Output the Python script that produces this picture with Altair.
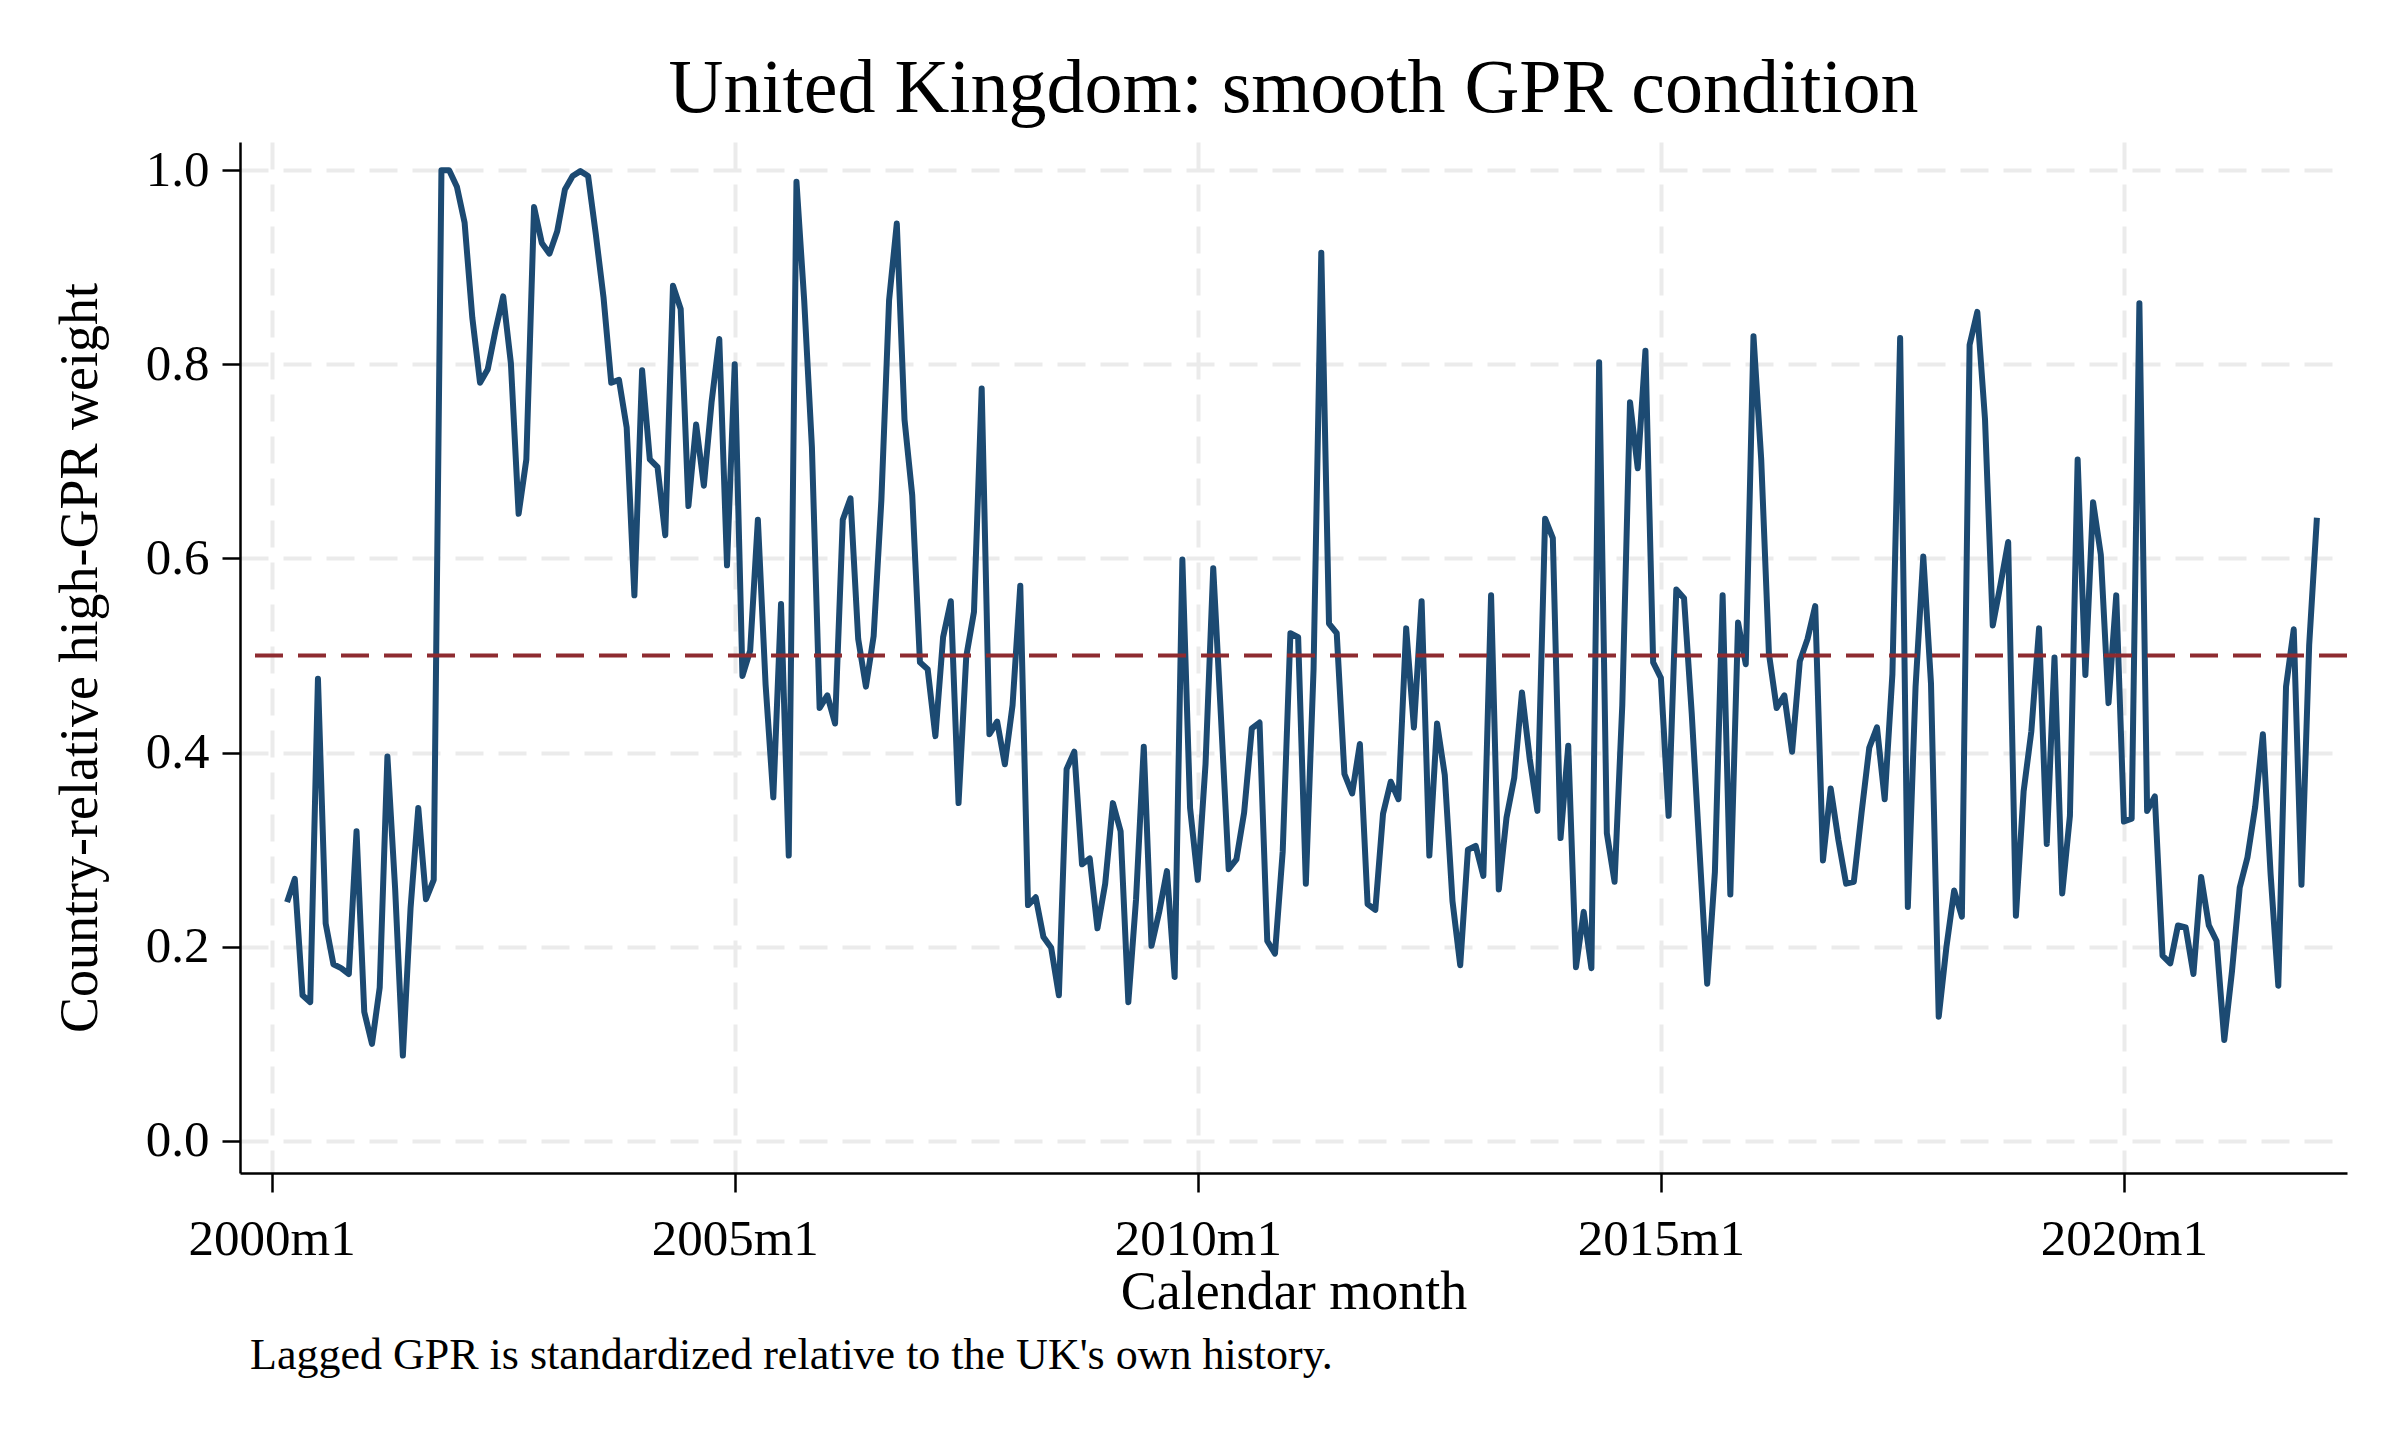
# UK smooth GPR condition - monthly high-GPR weight
import pandas as pd
import altair as alt

# series starts in 2000m3 (month index 2 = months since 2000m1)
start_month = 2
weights = [
    0.246, 0.270, 0.150, 0.143, 0.476, 0.224, 0.182, 0.178, 0.172, 0.319,                # 2000
    0.133, 0.100, 0.158, 0.396, 0.260, 0.088, 0.240, 0.343, 0.249, 0.269, 1.000, 1.000,  # 2001
    0.983, 0.946, 0.848, 0.781, 0.795, 0.835, 0.870, 0.801, 0.646, 0.702, 0.962, 0.925,  # 2002
    0.914, 0.937, 0.980, 0.994, 0.999, 0.994, 0.934, 0.869, 0.781, 0.784, 0.735, 0.562,  # 2003
    0.794, 0.702, 0.694, 0.624, 0.881, 0.857, 0.654, 0.738, 0.675, 0.761, 0.826, 0.593,  # 2004
    0.800, 0.479, 0.505, 0.640, 0.470, 0.354, 0.553, 0.294, 0.988, 0.866, 0.715, 0.446,  # 2005
    0.459, 0.430, 0.640, 0.662, 0.517, 0.468, 0.520, 0.660, 0.866, 0.945, 0.743, 0.665,  # 2006
    0.493, 0.486, 0.417, 0.519, 0.556, 0.348, 0.499, 0.545, 0.775, 0.419, 0.432, 0.388,  # 2007
    0.449, 0.572, 0.243, 0.251, 0.210, 0.199, 0.150, 0.383, 0.401, 0.285, 0.291, 0.219,  # 2008
    0.265, 0.348, 0.319, 0.143, 0.249, 0.406, 0.201, 0.236, 0.278, 0.169, 0.599, 0.343,  # 2009
    0.269, 0.388, 0.590, 0.437, 0.280, 0.290, 0.338, 0.425, 0.431, 0.206, 0.193, 0.298,  # 2010
    0.523, 0.519, 0.265, 0.486, 0.915, 0.533, 0.523, 0.378, 0.358, 0.409, 0.244, 0.238,  # 2011
    0.337, 0.370, 0.352, 0.528, 0.426, 0.556, 0.294, 0.430, 0.377, 0.247, 0.181, 0.300,  # 2012
    0.304, 0.273, 0.562, 0.259, 0.333, 0.374, 0.462, 0.394, 0.340, 0.641, 0.621, 0.312,  # 2013
    0.407, 0.179, 0.236, 0.178, 0.802, 0.317, 0.267, 0.449, 0.761, 0.693, 0.814, 0.493,  # 2014
    0.477, 0.335, 0.568, 0.559, 0.440, 0.300, 0.162, 0.277, 0.562, 0.254, 0.534, 0.491,  # 2015
    0.829, 0.702, 0.502, 0.446, 0.459, 0.401, 0.494, 0.517, 0.551, 0.289, 0.363, 0.310,  # 2016
    0.265, 0.267, 0.338, 0.405, 0.426, 0.352, 0.481, 0.827, 0.241, 0.468, 0.602, 0.471,  # 2017
    0.128, 0.200, 0.258, 0.231, 0.820, 0.854, 0.743, 0.531, 0.573, 0.617, 0.232, 0.360,  # 2018
    0.422, 0.528, 0.306, 0.498, 0.255, 0.335, 0.702, 0.480, 0.658, 0.604, 0.451, 0.562,  # 2019
    0.329, 0.332, 0.863, 0.340, 0.355, 0.191, 0.183, 0.222, 0.220, 0.172, 0.272, 0.222,  # 2020
    0.206, 0.104, 0.175, 0.261, 0.292, 0.344, 0.419, 0.275, 0.160, 0.468, 0.527, 0.264,  # 2021
    0.511, 0.642,                                                                        # 2022
]
threshold = [0.5]
x_ticks = [0, 60, 120, 180, 240]   # 2000m1, 2005m1, ...
y_ticks = [0.0, 0.2, 0.4, 0.6, 0.8, 1.0]

TITLE = "United Kingdom: smooth GPR condition"
X_TITLE = "Calendar month"
Y_TITLE = "Country-relative high-GPR weight"
NOTE = "Lagged GPR is standardized relative to the UK's own history."

FONT = "Liberation Serif"
LINE_COLOR = "#1c4a72"
REF_COLOR = "#8e2b30"
GRID_COLOR = "#ebebeb"

df = pd.DataFrame({
    "month": [start_month + i for i in range(len(weights))],
    "weight": weights,
})
ref_df = pd.DataFrame({"threshold": threshold})
note_df = pd.DataFrame({"note": [NOTE]})

x_scale = alt.Scale(domain=[-4.1, 268.9], nice=False, zero=False)
y_scale = alt.Scale(domain=[-0.033, 1.029], nice=False, zero=False)

x_axis = alt.Axis(
    values=x_ticks,
    labelExpr="(2000 + floor(datum.value / 12)) + 'm1'",
    title=X_TITLE,
    titleFontSize=54, titleFontWeight="normal", titleFont=FONT,
    titleY=135, titleBaseline="alphabetic",
    labelFontSize=51, labelFont=FONT, labelPadding=22,
    tickSize=19, tickWidth=2.5, tickColor="black",
    domainColor="black", domainWidth=2.5,
    grid=True, gridColor=GRID_COLOR, gridWidth=4, gridDash=[27, 15],
    labelColor="black", titleColor="black",
)
y_axis = alt.Axis(
    values=y_ticks,
    format=".1f",
    title=Y_TITLE,
    titleFontSize=54, titleFontWeight="normal", titleFont=FONT,
    titleX=-160, titleBaseline="middle",
    labelFontSize=51, labelFont=FONT, labelPadding=13,
    tickSize=18, tickWidth=2.5, tickColor="black",
    domainColor="black", domainWidth=2.5,
    grid=True, gridColor=GRID_COLOR, gridWidth=4, gridDash=[28, 15],
    labelColor="black", titleColor="black",
)

line = alt.Chart(df).mark_line(color=LINE_COLOR, strokeWidth=6, strokeJoin="round").encode(
    alt.X("month:Q", scale=x_scale, axis=x_axis),
    alt.Y("weight:Q", scale=y_scale, axis=y_axis),
)

rule = alt.Chart(ref_df).mark_rule(color=REF_COLOR, strokeWidth=4, strokeDash=[28, 15]).encode(
    y="threshold:Q"
)

note = alt.Chart(note_df).mark_text(
    font=FONT, fontSize=44, align="left", baseline="alphabetic", color="black"
).encode(
    text="note:N",
    x=alt.value(10),
    y=alt.value(1227),
)

chart = alt.layer(line, rule, note).properties(
    width=2107,
    height=1031,
    autosize=alt.AutoSizeParams(type="none"),
    padding={"left": 232, "top": 134, "right": 45, "bottom": 259},
    title=alt.TitleParams(
        TITLE, font=FONT, fontSize=76, fontWeight="normal", color="black",
        anchor="middle", frame="group", baseline="alphabetic", offset=-46,
    ),
    background="white",
).configure(font=FONT, view=alt.ViewConfig(strokeWidth=0))

chart.save("out.html", embed_options={"renderer": "svg", "actions": False})
